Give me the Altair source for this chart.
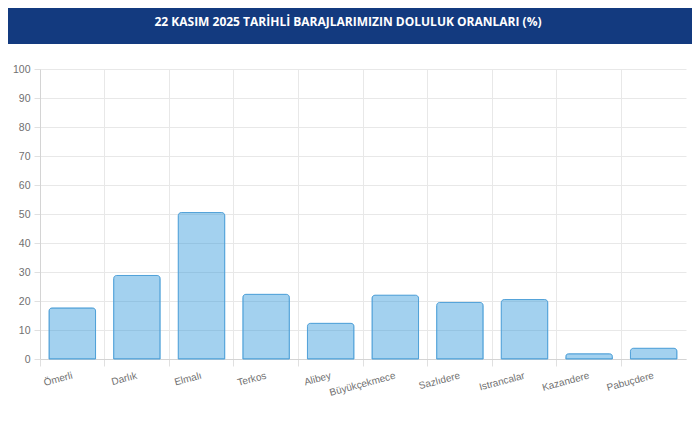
import pandas as pd
import altair as alt

title_text = "22 KASIM 2025 TARİHLİ BARAJLARIMIZIN DOLULUK ORANLARI (%)"
dams = ["Ömerli", "Darlık", "Elmalı", "Terkos", "Alibey", "Büyükçekmece",
        "Sazlıdere", "Istrancalar", "Kazandere", "Pabuçdere"]
fill_pct = [17.6, 28.8, 50.5, 22.3, 12.3, 22.0, 19.5, 20.5, 1.8, 3.7]
y_ticks = list(range(0, 101, 10))

df = pd.DataFrame({"Baraj": dams, "Doluluk": fill_pct})
head = pd.DataFrame({"t": [title_text]})

W, H = 646, 290

bars = alt.Chart(df).mark_bar(
    width=alt.RelativeBandSize(0.72),
    fill="#3498db", fillOpacity=0.45,
    stroke="#4fa0d8", strokeWidth=1,
    cornerRadiusTopLeft=3, cornerRadiusTopRight=3,
).encode(
    x=alt.X("Baraj:N", sort=None, title=None,
            scale=alt.Scale(paddingInner=0, paddingOuter=0),
            axis=alt.Axis(bandPosition=0, grid=True,
                          gridColor="#e8e8e8", domainColor="#d4d4d4",
                          tickColor="#e0e0e0", tickSize=7,
                          labelAngle=345, labelAlign="right", labelBaseline="middle",
                          labelPadding=9, labelColor="#707070", labelFontSize=10,
                          labelFont="Liberation Sans")),
    y=alt.Y("Doluluk:Q", title=None,
            scale=alt.Scale(domain=[0, 100]),
            axis=alt.Axis(values=y_ticks, grid=True, gridColor="#e8e8e8",
                          domainColor="#d4d4d4", tickColor="#e0e0e0", tickSize=6,
                          labelPadding=4, labelColor="#707070", labelFontSize=10.5,
                          labelFont="Liberation Sans")),
)

# dark header band with the title
band = alt.Chart(head).mark_rect(color="#133a7f").encode(
    x=alt.value(-32), x2=alt.value(W + 6),
    y=alt.value(-61), y2=alt.value(-25),
)
title = alt.Chart(head).mark_text(
    color="white", font="Open Sans", fontWeight="bold", fontSize=12,
    align="center", baseline="middle",
).encode(
    text="t:N", x=alt.value(308), y=alt.value(-47),
)

chart = alt.layer(band, title, bars).properties(
    width=W, height=H,
    autosize=alt.AutoSizeParams(type="none"),
    padding={"left": 32, "top": 61, "right": 6, "bottom": 57},
).configure_view(stroke=None)

chart.save("out.html", embed_options={"renderer": "svg", "actions": False})
